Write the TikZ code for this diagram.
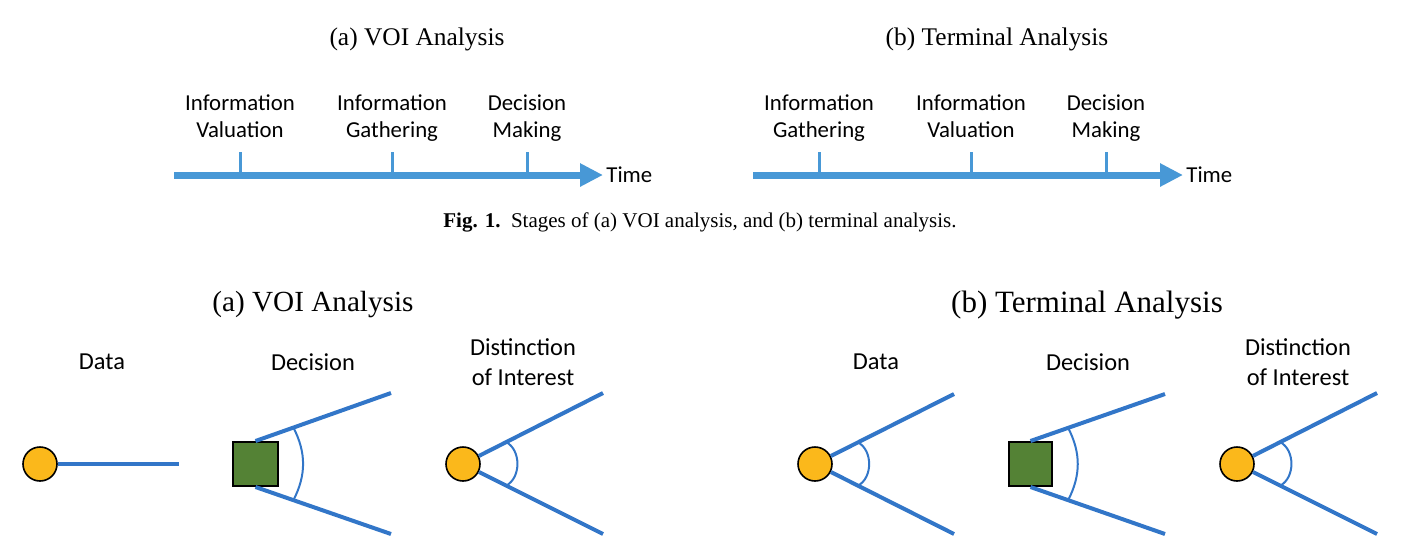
\documentclass[tikz,border=0pt]{standalone}
\usepackage{fontspec}
\setmainfont{Liberation Serif}
\newfontfamily\calibri{Carlito}
\usetikzlibrary{arrows.meta}

\definecolor{axisblue}{RGB}{72,152,214}
\definecolor{branchblue}{RGB}{50,118,200}
\definecolor{chancegold}{RGB}{251,184,27}
\definecolor{decgreen}{RGB}{84,130,53}

\begin{document}
\begin{tikzpicture}[x=0.5pt, y=-0.5pt,
    title/.style={font=\fontsize{12.7}{15}\selectfont},
    bigtitle/.style={font=\fontsize{14.6}{17}\selectfont},
    stage/.style={font=\calibri\fontsize{11.4}{13.5}\selectfont, align=center,
      execute at begin node=\strut, execute at end node=\strut},
    kind/.style={font=\calibri\fontsize{12.2}{15}\selectfont, align=center},
    timelbl/.style={font=\calibri\fontsize{11.4}{13.5}\selectfont, anchor=west, inner sep=1.5pt},
    axis/.style={axisblue, line width=3.5pt, -{Triangle[length=11.5pt,width=11pt]}},
    tick/.style={axisblue, line width=1.5pt},
    chance/.style={circle, draw=black, line width=0.8pt, fill=chancegold, minimum size=17pt, inner sep=0pt},
    decision/.style={rectangle, draw=black, line width=1pt, fill=decgreen, minimum width=22pt, minimum height=22pt, inner sep=0pt},
    branch/.style={branchblue, line width=2pt},
    span/.style={branchblue, line width=1pt}
  ]
  \useasboundingbox (0,0) rectangle (1414,554);

  % Fig. 1 titles
  \node[title] (titA) at (417,39) {(a) VOI Analysis};
  \node[title] (titB) at (997,39) {(b) Terminal Analysis};

  % Timeline (a)
  \coordinate (axA) at (174,175);
  \node[timelbl] (timeA) at (603,175) {Time};
  \draw[axis] (axA) -- (timeA.west);
  \draw[tick] (240,175) -- (240,152);
  \draw[tick] (392,175) -- (392,152);
  \draw[tick] (527,175) -- (527,152);
  \node[stage] (valA) at (240,120) {Information\\Valuation};
  \node[stage] (gatA) at (392,120) {Information\\Gathering};
  \node[stage] (makA) at (527,120) {Decision\\Making};

  % Timeline (b)
  \coordinate (axB) at (753,175);
  \node[timelbl] (timeB) at (1183,175) {Time};
  \draw[axis] (axB) -- (timeB.west);
  \draw[tick] (819,175) -- (819,152);
  \draw[tick] (971,175) -- (971,152);
  \draw[tick] (1106,175) -- (1106,152);
  \node[stage] (gatB) at (819,120) {Information\\Gathering};
  \node[stage] (valB) at (971,120) {Information\\Valuation};
  \node[stage] (makB) at (1106,120) {Decision\\Making};

  % Caption
  \node[font=\fontsize{10.5}{12}\selectfont] (cap) at (700,222)
    {\textbf{Fig. 1.}\ \ Stages of (a) VOI analysis, and (b) terminal analysis.};

  % Fig. 2 titles
  \node[bigtitle] (btitA) at (313,305) {(a) VOI Analysis};
  \node[bigtitle, font=\fontsize{15.5}{18}\selectfont] (btitB) at (1087,305) {(b) Terminal Analysis};

  % Labels
  \node[kind] (labDataA) at (102,362) {Data};
  \node[kind] (labDecA) at (313,362) {Decision};
  \node[kind] (labDoiA) at (523,362) {Distinction\\of Interest};
  \node[kind] (labDataB) at (876,362) {Data};
  \node[kind] (labDecB) at (1088,362) {Decision};
  \node[kind] (labDoiB) at (1298,362) {Distinction\\of Interest};

  % (a) data
  \node[chance] (dataA) at (40,464) {};
  \coordinate (dataAend) at (179,464);
  \draw[branch] (dataA) -- (dataAend);

  % (a) decision
  \node[decision, minimum width=22.5pt] (decA) at (255.5,464) {};
  \coordinate (decAup) at (391,393);
  \coordinate (decAdn) at (391,534);
  \draw[branch] (decA.north) -- coordinate[pos=0.28] (decAu) (decAup);
  \draw[branch] (decA.south) -- coordinate[pos=0.28] (decAd) (decAdn);
  \draw[span] (decAu) to[bend left=27] (decAd);

  % (a) distinction of interest
  \node[chance] (doiA) at (463,464) {};
  \coordinate (doiAup) at (603,393);
  \coordinate (doiAdn) at (603,534);
  \draw[branch] (doiA) -- coordinate[pos=0.22] (doiAu) (doiAup);
  \draw[branch] (doiA) -- coordinate[pos=0.22] (doiAd) (doiAdn);
  \draw[span] (doiAu) to[bend left=62] (doiAd);

  % (b) data
  \node[chance] (dataB) at (815,464) {};
  \coordinate (dataBup) at (954,394);
  \coordinate (dataBdn) at (954,534);
  \draw[branch] (dataB) -- coordinate[pos=0.22] (dataBu) (dataBup);
  \draw[branch] (dataB) -- coordinate[pos=0.22] (dataBd) (dataBdn);
  \draw[span] (dataBu) to[bend left=62] (dataBd);

  % (b) decision
  \node[decision, minimum width=21.5pt] (decB) at (1030.5,464) {};
  \coordinate (decBup) at (1165,394);
  \coordinate (decBdn) at (1165,534);
  \draw[branch] (decB.north) -- coordinate[pos=0.28] (decBu) (decBup);
  \draw[branch] (decB.south) -- coordinate[pos=0.28] (decBd) (decBdn);
  \draw[span] (decBu) to[bend left=27] (decBd);

  % (b) distinction of interest
  \node[chance] (doiB) at (1237,464) {};
  \coordinate (doiBup) at (1377,393);
  \coordinate (doiBdn) at (1377,534);
  \draw[branch] (doiB) -- coordinate[pos=0.22] (doiBu) (doiBup);
  \draw[branch] (doiB) -- coordinate[pos=0.22] (doiBd) (doiBdn);
  \draw[span] (doiBu) to[bend left=62] (doiBd);
\end{tikzpicture}
\end{document}
